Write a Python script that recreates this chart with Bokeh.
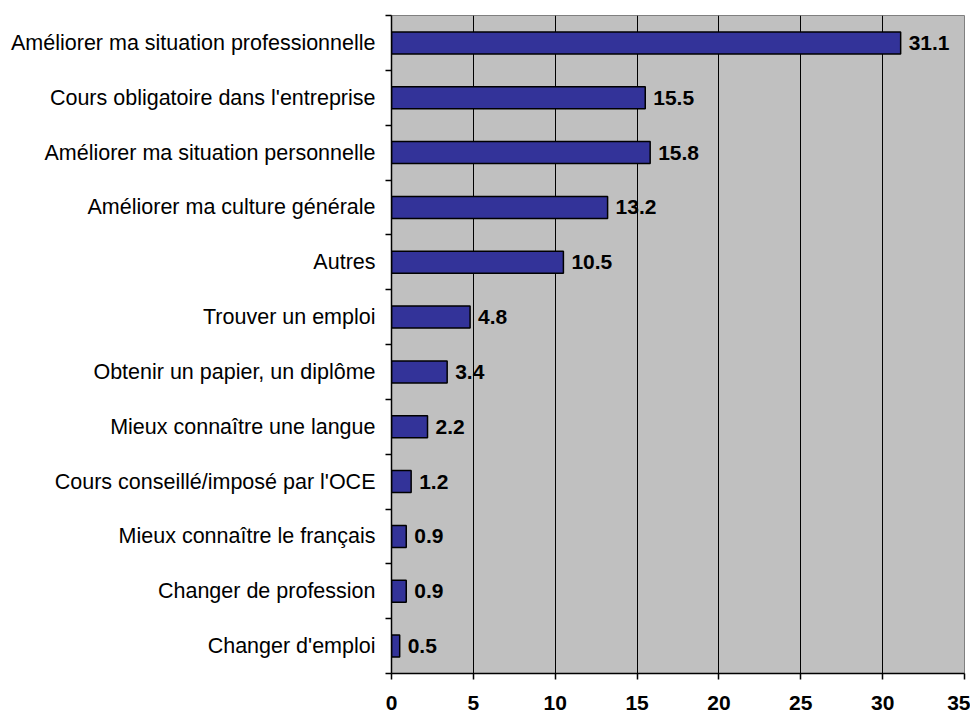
from bokeh.plotting import figure
from bokeh.models import ColumnDataSource, FixedTicker, Range1d
from bokeh.core.properties import value
from bokeh.embed import file_html
from bokeh.resources import INLINE

categories = [
    "Améliorer ma situation professionnelle",
    "Cours obligatoire dans l'entreprise",
    "Améliorer ma situation personnelle",
    "Améliorer ma culture générale",
    "Autres",
    "Trouver un emploi",
    "Obtenir un papier, un diplôme",
    "Mieux connaître une langue",
    "Cours conseillé/imposé par l'OCE",
    "Mieux connaître le français",
    "Changer de profession",
    "Changer d'emploi",
]
values = [31.1, 15.5, 15.8, 13.2, 10.5, 4.8, 3.4, 2.2, 1.2, 0.9, 0.9, 0.5]
x_ticks = [0, 5, 10, 15, 20, 25, 30, 35]

n = len(categories)
ypos = [n - i - 0.5 for i in range(n)]
labels = ["%.1f" % v for v in values]

src = ColumnDataSource(dict(y=ypos, v=values, lab=labels))

p = figure(width=970, height=713, output_backend="svg", toolbar_location=None,
           x_range=Range1d(0, 35), y_range=Range1d(0, n),
           min_border_left=391, min_border_right=6, min_border_top=15, min_border_bottom=40)
p.background_fill_color = "#C0C0C0"
p.border_fill_color = "white"
p.outline_line_color = "#808080"
p.outline_line_width = 1

p.hbar(y="y", right="v", left=0, height=0.4, source=src,
       fill_color="#333399", line_color="black", line_width=1.5)
p.text(x="v", y="y", text="lab", source=src, x_offset=8,
       text_font=value("Liberation Sans"), text_font_style="bold",
       text_font_size="21px", text_baseline="middle", text_align="left",
       text_color="black")

# x axis
p.xaxis.ticker = FixedTicker(ticks=x_ticks)
p.xaxis.major_label_text_font = "Liberation Sans"
p.xaxis.major_label_text_font_style = "bold"
p.xaxis.major_label_text_font_size = "21px"
p.xaxis.major_label_text_color = "black"
p.xaxis.major_tick_out = 6
p.xaxis.major_tick_in = 0
p.xaxis.minor_tick_out = 0
p.xaxis.minor_tick_in = 0
p.xaxis.major_label_standoff = 16
p.xaxis.axis_line_color = "black"
p.xaxis.axis_line_width = 1.5
p.xaxis.major_tick_line_color = "black"
p.xaxis.major_tick_line_width = 1.5

# y axis
p.yaxis.ticker = FixedTicker(ticks=ypos, minor_ticks=list(range(n + 1)))
p.yaxis.major_label_overrides = {y: c for y, c in zip(ypos, categories)}
p.yaxis.major_label_text_font = "Liberation Sans"
p.yaxis.major_label_text_font_size = "21.5px"
p.yaxis.major_label_text_color = "black"
p.yaxis.major_tick_out = 0
p.yaxis.major_tick_in = 0
p.yaxis.minor_tick_out = 6
p.yaxis.minor_tick_in = 0
p.yaxis.minor_tick_line_color = "black"
p.yaxis.minor_tick_line_width = 1.5
p.yaxis.major_label_standoff = 10
p.yaxis.axis_line_color = "black"
p.yaxis.axis_line_width = 1.5

p.xgrid.ticker = FixedTicker(ticks=x_ticks[1:-1])
p.xgrid.grid_line_color = "black"
p.xgrid.grid_line_width = 1
p.ygrid.grid_line_color = None

open("out.html", "w").write(file_html(p, INLINE))
